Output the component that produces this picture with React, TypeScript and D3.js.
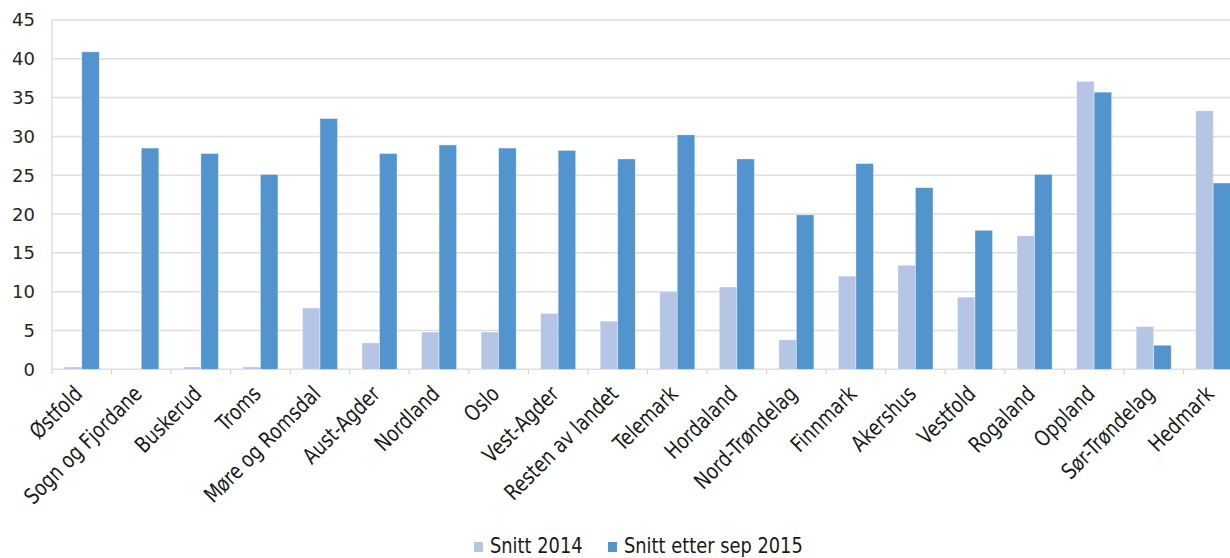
import React from 'react';
import * as d3 from 'd3';

const categories = [
  'Østfold', 'Sogn og Fjordane', 'Buskerud', 'Troms', 'Møre og Romsdal',
  'Aust-Agder', 'Nordland', 'Oslo', 'Vest-Agder', 'Resten av landet',
  'Telemark', 'Hordaland', 'Nord-Trøndelag', 'Finnmark', 'Akershus',
  'Vestfold', 'Rogaland', 'Oppland', 'Sør-Trøndelag', 'Hedmark',
];
const snitt2014 = [0.3, 0, 0.3, 0.3, 7.9, 3.4, 4.8, 4.8, 7.2, 6.2, 10.0, 10.6, 3.8, 12.0, 13.4, 9.3, 17.2, 37.1, 5.5, 33.3];
const snitt2015 = [40.9, 28.5, 27.8, 25.1, 32.3, 27.8, 28.9, 28.5, 28.2, 27.1, 30.2, 27.1, 19.9, 26.5, 23.4, 17.9, 25.1, 35.7, 3.1, 24.0];
const seriesNames = ['Snitt 2014', 'Snitt etter sep 2015'];
const colors = ['#b4c5e5', '#5194ce'];
const yTicks = [0, 5, 10, 15, 20, 25, 30, 35, 40, 45];

const W = 1230, H = 558;
// the plot runs a bit past the right edge of the picture (cropped original)
const plot = { left: 52, right: 1243, top: 20, bottom: 369.3 };
const font = "'DejaVu Sans', Verdana, sans-serif";
// labels + legend use a narrow face in the original, fake it by squeezing
const narrow = 0.81;

export default function App() {
  const x = d3.scaleBand<string>()
    .domain(categories)
    .range([plot.left, plot.right]);
  const inner = d3.scaleBand<number>()
    .domain([0, 1])
    .range([0, x.bandwidth()])
    .paddingOuter(0.7)
    .paddingInner(0);
  const y = d3.scaleLinear().domain([0, 45]).range([plot.bottom, plot.top]);
  const series = [snitt2014, snitt2015];
  const y0 = y(0);

  const legend = [
    { sx: 474, tx: 490 },
    { sx: 608, tx: 624 },
  ];

  return (
    <svg width={W} height={H} style={{ position: 'absolute', left: 0, top: 0, background: '#fff' }}>
      {/* gridlines */}
      {yTicks.map(t => (
        <line key={t} x1={plot.left} x2={W} y1={y(t)} y2={y(t)} stroke="#dedede" strokeWidth={1.5} />
      ))}
      <line x1={plot.left} x2={plot.left} y1={plot.top} y2={y0 + 0.75} stroke="#dedede" strokeWidth={1.5} />
      {/* category tick marks */}
      {categories.map(c => (
        <line key={c} x1={x(c)!} x2={x(c)!} y1={y0} y2={y0 + 5} stroke="#d6d6d6" strokeWidth={1.2} />
      ))}
      {/* y labels */}
      {yTicks.map(t => (
        <text key={t} x={35} y={y(t)} dy="0.36em" textAnchor="end"
          fontFamily={font} fontSize={18} fill="#262626">{t}</text>
      ))}
      {/* bars */}
      {categories.map((c, i) => (
        <g key={c} transform={`translate(${x(c)},0)`}>
          {series.map((s, k) => (
            <rect key={k} x={inner(k)} width={inner.bandwidth()} y={y(s[i])} height={y0 - y(s[i])}
              fill={colors[k]} stroke="#ffffff" strokeOpacity={0.45} strokeWidth={0.8} />
          ))}
        </g>
      ))}
      {/* category labels */}
      {categories.map(c => {
        const cx = x(c)! + x.bandwidth() / 2 + 2;
        const cy = y0 + 26;
        return (
          <text key={c} transform={`translate(${cx},${cy}) rotate(-45) scale(${narrow},1)`} textAnchor="end"
            fontFamily={font} fontSize={22} fill="#1a1a1a">{c}</text>
        );
      })}
      {/* legend */}
      {legend.map((l, k) => (
        <g key={k}>
          <rect x={l.sx} y={542} width={9} height={10} fill={colors[k]} />
          <text transform={`translate(${l.tx},553) scale(0.85,1)`} fontFamily={font} fontSize={21} fill="#1a1a1a">{seriesNames[k]}</text>
        </g>
      ))}
    </svg>
  );
}
